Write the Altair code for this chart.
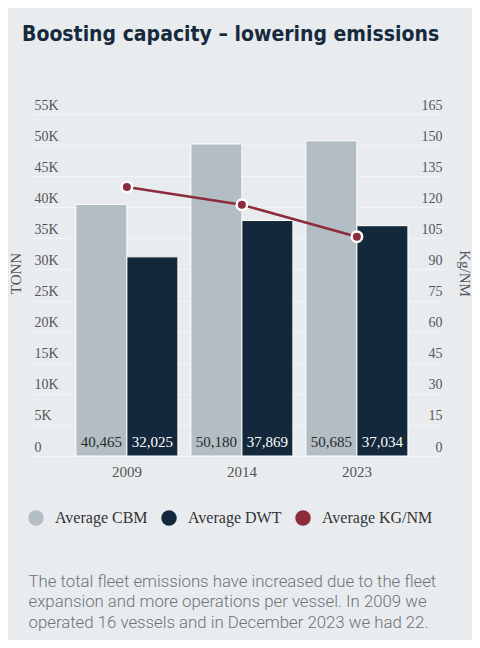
import altair as alt
import pandas as pd

years = ["2009", "2014", "2023"]
avg_cbm = [40465, 50180, 50685]
avg_dwt = [32025, 37869, 37034]
avg_kgnm = [129.8, 121.2, 105.8]
series_names = ["Average CBM", "Average DWT", "Average KG/NM"]
series_colors = ["#b2bdc4", "#13283b", "#8c2c3c"]
left_ticks = [0, 5000, 10000, 15000, 20000, 25000, 30000, 35000, 40000, 45000, 50000, 55000]
right_ticks = [0, 15, 30, 45, 60, 75, 90, 105, 120, 135, 150, 165]
footer_lines = [
    "The total fleet emissions have increased due to the fleet",
    "expansion and more operations per vessel. In 2009 we",
    "operated 16 vessels and in December 2023 we had 22.",
]

bars_df = pd.DataFrame(
    {
        "year": years * 2,
        "series": [series_names[0]] * 3 + [series_names[1]] * 3,
        "value": avg_cbm + avg_dwt,
    }
)
bars_df["label"] = bars_df["value"].map(lambda v: f"{v:,}")
bars_df["txtcolor"] = ["#2b2b2b"] * 3 + ["#ffffff"] * 3
line_df = pd.DataFrame({"year": years, "series": [series_names[2]] * 3, "kg": avg_kgnm})

SERIF = "Liberation Serif"

x_enc = alt.X(
    "year:N",
    sort=years,
    scale=alt.Scale(paddingInner=0.113, paddingOuter=0.339, align=0.55),
    axis=alt.Axis(
        title=footer_lines,
        titleAnchor="start",
        titleAlign="left",
        titleBaseline="top",
        titleX=-5,
        titleY=117,
        titleFont="Roboto",
        titleFontWeight=300,
        titleFontSize=16.8,
        titleLineHeight=20.8,
        titleColor="#6d7378",
        labelAngle=0,
        labelFont=SERIF,
        labelFontSize=15,
        labelColor="#555555",
        labelPadding=8,
        domain=False,
        ticks=False,
        grid=False,
    ),
)

color_enc = alt.Color(
    "series:N",
    scale=alt.Scale(domain=series_names, range=series_colors),
    legend=alt.Legend(
        title=None,
        orient="none",
        legendX=-5,
        legendY=396,
        direction="horizontal",
        symbolType="circle",
        symbolSize=240,
        symbolStrokeWidth=0,
        labelFont=SERIF,
        labelFontSize=16,
        labelColor="#333333",
        labelOffset=11,
        columnPadding=13,
    ),
)

left_axis = alt.Axis(
    title="TONN",
    values=left_ticks,
    tickCount=len(left_ticks),
    labelExpr="datum.value == 0 ? '0' : (datum.value / 1000) + 'K'",
    orient="left",
    offset=-1,
    labelAlign="left",
    labelPadding=0,
    labelBaseline="alphabetic",
    labelOffset=-5,
    labelOverlap=False,
    labelBound=False,
    labelFont=SERIF,
    labelFontSize=14,
    labelColor="#555555",
    titleFont=SERIF,
    titleFontSize=15,
    titleFontWeight="normal",
    titleColor="#555555",
    titleX=-19,
    titleY=159,
    titleAngle=-90,
    titleAlign="center",
    titleBaseline="middle",
    domain=False,
    ticks=False,
    grid=True,
    gridColor="#f3f5f7",
    gridWidth=1,
)

bars = (
    alt.Chart(bars_df)
    .mark_bar(stroke="white", strokeWidth=1)
    .encode(
        x=x_enc,
        xOffset=alt.XOffset("series:N", sort=series_names[:2], scale=alt.Scale(paddingInner=0, paddingOuter=0)),
        y=alt.Y("value:Q", scale=alt.Scale(domain=[0, 55000], nice=False), axis=left_axis),
        color=color_enc,
    )
)

labels = (
    alt.Chart(bars_df)
    .mark_text(font=SERIF, fontSize=15, baseline="alphabetic", dy=-9)
    .encode(
        x=alt.X("year:N", sort=years),
        xOffset=alt.XOffset("series:N", sort=series_names[:2]),
        y=alt.datum(0),
        text="label:N",
        color=alt.Color("txtcolor:N", scale=None),
    )
)

left_layer = alt.layer(bars, labels)

right_axis = alt.Axis(
    title="Kg/NM",
    values=right_ticks,
    tickCount=len(right_ticks),
    orient="right",
    offset=-1,
    labelAlign="right",
    labelPadding=0,
    labelBaseline="alphabetic",
    labelOffset=-5,
    labelOverlap=False,
    labelBound=False,
    labelFont=SERIF,
    labelFontSize=14,
    labelColor="#555555",
    titleFont=SERIF,
    titleFontSize=15,
    titleFontWeight="normal",
    titleColor="#555555",
    titleX=22,
    titleY=159,
    titleAngle=90,
    titleAlign="center",
    titleBaseline="middle",
    domain=False,
    ticks=False,
    grid=False,
)

line = (
    alt.Chart(line_df)
    .mark_line(strokeWidth=2.5, color="#8c2c3c")
    .encode(
        x=alt.X("year:N", sort=years),
        y=alt.Y("kg:Q", scale=alt.Scale(domain=[0, 165], nice=False), axis=right_axis),
        color=alt.Color("series:N"),
    )
)
points = (
    alt.Chart(line_df)
    .mark_point(filled=True, size=110, stroke="white", strokeWidth=2.5, opacity=1, fill="#8c2c3c")
    .encode(x=alt.X("year:N", sort=years), y=alt.Y("kg:Q"), color=alt.Color("series:N"))
)
right_layer = alt.layer(line, points)

chart = (
    alt.layer(left_layer, right_layer)
    .resolve_scale(y="independent")
    .properties(
        width=410,
        height=342,
        autosize=alt.AutoSizeParams(type="none"),
        padding={"left": 25, "top": 106, "right": 29, "bottom": 184},
        background="#e8ecef",
        title=alt.TitleParams(
            text="Boosting capacity – lowering emissions",
            anchor="start",
            frame="group",
            font="DejaVu Sans Condensed, Roboto Condensed, Roboto",
            fontSize=21,
            fontWeight="bold",
            color="#172a3d",
            dx=-11,
            offset=36,
            baseline="alphabetic",
        ),
    )
    .configure_view(stroke=None)
)

chart.save("out.html", embed_options={"renderer": "svg", "actions": False})
